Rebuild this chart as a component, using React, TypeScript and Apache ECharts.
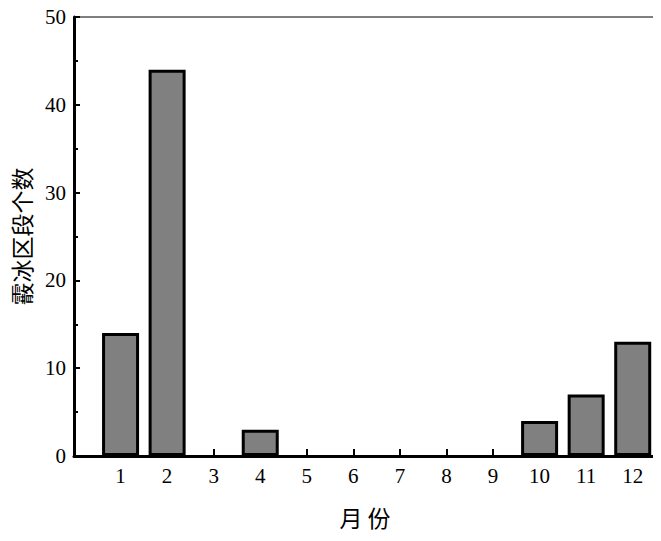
import React, { useEffect, useRef } from "react";
import * as echarts from "echarts";

const months = [1, 2, 3, 4, 5, 6, 7, 8, 9, 10, 11, 12];
const counts = [14, 44, 0, 3, 0, 0, 0, 0, 0, 4, 7, 13];
const yTicks = [0, 10, 20, 30, 40, 50];
const xName = "月 份";
const yName = "霰冰区段个数";

const FONT = "'Liberation Serif', 'Times New Roman', 'Noto Sans CJK SC', serif";
const CJK = "'Noto Sans CJK SC', serif";

export default function App() {
  const ref = useRef<HTMLDivElement>(null);
  useEffect(() => {
    if (!ref.current) return;
    const chart = echarts.init(ref.current, undefined, { renderer: "svg" });
    const data = months.map((m, i) => [m, counts[i] === 0 ? null : counts[i]]);
    chart.setOption({
      animation: false,
      backgroundColor: "#ffffff",
      grid: {
        left: 74,
        right: 5,
        top: 17,
        bottom: 85,
        show: true,
        borderColor: "#000",
        borderWidth: 1,
      },
      xAxis: {
        type: "value",
        min: 0,
        max: 12.5,
        interval: 1,
        name: xName,
        nameLocation: "middle",
        nameGap: 49,
        nameTextStyle: { fontFamily: CJK, fontSize: 23, color: "#000" },
        splitLine: { show: false },
        axisLine: { show: true, lineStyle: { color: "#000", width: 3 } },
        axisTick: { show: true, inside: true, length: 7, lineStyle: { color: "#000", width: 2 } },
        axisLabel: {
          fontFamily: FONT,
          fontSize: 21,
          color: "#000",
          margin: 9,
          showMinLabel: false,
          showMaxLabel: false,
          formatter: (v: number) => (months.includes(v) ? String(v) : ""),
        },
      },
      yAxis: {
        type: "value",
        min: yTicks[0],
        max: yTicks[yTicks.length - 1],
        interval: 10,
        name: yName,
        nameLocation: "middle",
        nameRotate: 90,
        nameGap: 42,
        nameTextStyle: { fontFamily: CJK, fontSize: 23, color: "#000" },
        splitLine: { show: false },
        axisLine: { show: true, lineStyle: { color: "#000", width: 3 } },
        axisTick: { show: true, inside: true, length: 6, lineStyle: { color: "#000", width: 2 } },
        minorTick: { show: true, splitNumber: 2, length: 4, lineStyle: { color: "#000", width: 2 } },
        axisLabel: { fontFamily: FONT, fontSize: 21, color: "#000", margin: 8 },
      },
      series: [
        {
          type: "bar",
          data,
          barWidth: 37,
          itemStyle: { color: "#808080", borderColor: "#000", borderWidth: 3 },
        },
      ],
    });
    return () => chart.dispose();
  }, []);
  return <div ref={ref} style={{ width: 661, height: 541, margin: -8 }} />;
}
